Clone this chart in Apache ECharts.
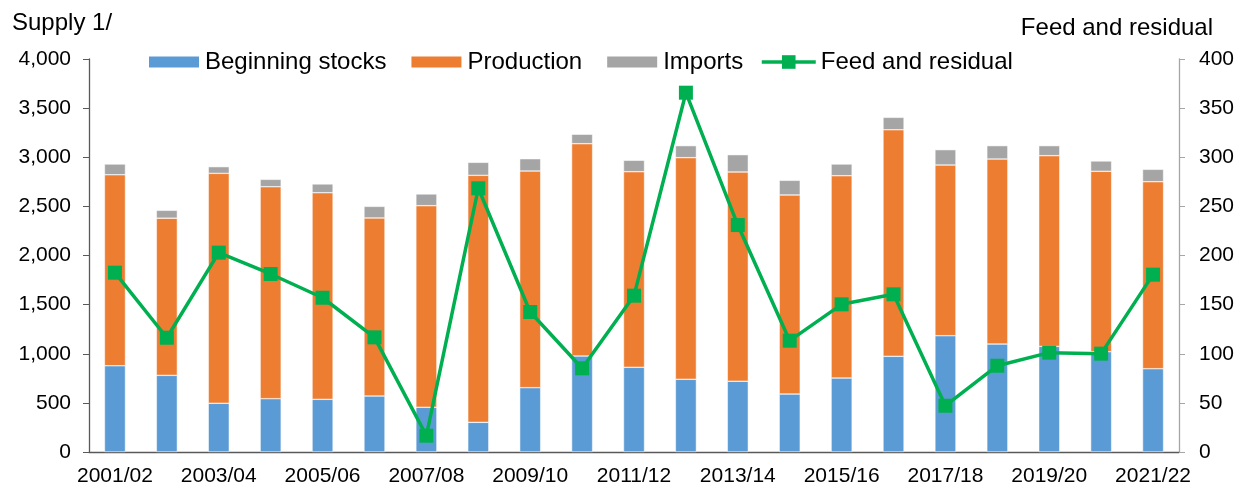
<!DOCTYPE html>
<html>
<head>
<meta charset="utf-8">
<script src="https://cdn.jsdelivr.net/npm/echarts@6/dist/echarts.min.js"></script>
<style>
  html, body { margin: 0; padding: 0; background: #fff; }
  #chart { width: 1249px; height: 487px; }
</style>
</head>
<body>
<div id="chart"></div>
<script>
var years = ['2001/02','2002/03','2003/04','2004/05','2005/06','2006/07','2007/08','2008/09','2009/10','2010/11',
    '2011/12','2012/13','2013/14','2014/15','2015/16','2016/17','2017/18','2018/19','2019/20','2020/21','2021/22'];
var stocks = [878, 780, 496, 543, 536, 570, 455, 302, 655, 977, 862, 740, 720, 590, 753, 974, 1184, 1099, 1075, 1021, 848];
var production = [1944, 1600, 2340, 2157, 2103, 1812, 2052, 2514, 2205, 2161, 1991, 2256, 2130, 2026, 2059, 2306, 1737, 1883, 1941, 1836, 1903];
var imports = [109, 80, 68, 75, 89, 118, 119, 132, 125, 96, 116, 122, 176, 149, 119, 126, 156, 136, 102, 105, 126];
var feed = [182.5, 116.3, 202.9, 181.2, 157, 116.7, 16.6, 268.4, 142.5, 85.2, 159.1, 365.7, 231, 113.3, 150.3, 160.5, 47.1, 87.8, 101.1, 100.1, 180.5];

var font = 'Liberation Sans, Arial, sans-serif';
var myChart = echarts.init(document.getElementById('chart'));

var bigText = { fontFamily: font, fontSize: 24, fontWeight: 'normal', color: '#000' };

var option = {
    animation: false,
    textStyle: { fontFamily: font, color: '#000' },
    title: [
        { text: 'Supply 1/', left: 7, top: 6, textStyle: bigText },
        { text: 'Feed and residual', right: 31, top: 11, textStyle: bigText }
    ],
    legend: [
        {
            left: 142, top: 45, icon: 'rect',
            itemWidth: 52, itemHeight: 13, itemGap: 23,
            textStyle: { fontFamily: font, fontSize: 24, color: '#000' },
            data: ['Beginning stocks', 'Production', 'Imports']
        },
        {
            left: 755, top: 45,
            itemWidth: 54, itemHeight: 17,
            textStyle: { fontFamily: font, fontSize: 24, color: '#000' },
            lineStyle: { width: 3.5 },
            data: ['Feed and residual']
        }
    ],
    grid: { left: 89, right: 70, top: 59, bottom: 35, containLabel: false },
    xAxis: {
        type: 'category',
        data: years,
        axisLine: { lineStyle: { color: '#595959', width: 1.3 } },
        axisTick: { interval: 0, length: 6, lineStyle: { color: '#595959' } },
        axisLabel: { interval: 1, margin: 14, fontSize: 21, color: '#000', fontFamily: font }
    },
    yAxis: [
        {
            type: 'value', min: 0, max: 4000, interval: 500,
            splitLine: { show: false },
            axisLine: { show: true, lineStyle: { color: '#595959', width: 1.3 } },
            axisTick: { show: true, length: 6, lineStyle: { color: '#595959' } },
            axisLabel: { margin: 18, fontSize: 21, color: '#000', fontFamily: font,
                formatter: function (v) { return v.toLocaleString('en-US'); } }
        },
        {
            type: 'value', min: 0, max: 400, interval: 50,
            splitLine: { show: false },
            axisLine: { show: true, lineStyle: { color: '#a6a6a6', width: 1.3 } },
            axisTick: { show: true, length: 6, lineStyle: { color: '#a6a6a6' } },
            axisLabel: { margin: 20, fontSize: 21, color: '#000', fontFamily: font }
        }
    ],
    series: [
        { name: 'Beginning stocks', type: 'bar', stack: 'supply', barWidth: 21, data: stocks,
          itemStyle: { color: '#5B9BD5', borderColor: '#fff', borderWidth: 0.5 } },
        { name: 'Production', type: 'bar', stack: 'supply', barWidth: 21, data: production,
          itemStyle: { color: '#ED7D31', borderColor: '#fff', borderWidth: 0.5 } },
        { name: 'Imports', type: 'bar', stack: 'supply', barWidth: 21, data: imports,
          itemStyle: { color: '#A5A5A5', borderColor: '#fff', borderWidth: 0.5 } },
        { name: 'Feed and residual', type: 'line', yAxisIndex: 1, data: feed,
          symbol: 'rect', symbolSize: 14,
          lineStyle: { color: '#00B050', width: 3.5 },
          itemStyle: { color: '#00B050' } }
    ]
};
myChart.setOption(option);
</script>
</body>
</html>
